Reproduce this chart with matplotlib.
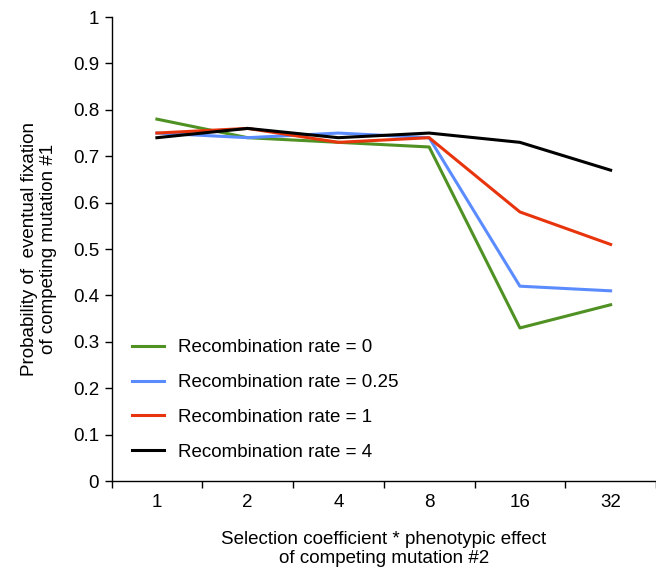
import matplotlib.pyplot as plt
import numpy as np

plt.rcParams['font.family'] = ['Liberation Sans', 'DejaVu Sans']

categories = ["1", "2", "4", "8", "16", "32"]
rate_0 = [0.78, 0.74, 0.73, 0.72, 0.33, 0.38]
rate_025 = [0.75, 0.74, 0.75, 0.74, 0.42, 0.41]
rate_1 = [0.75, 0.76, 0.73, 0.74, 0.58, 0.51]
rate_4 = [0.74, 0.76, 0.74, 0.75, 0.73, 0.67]
labels = ["Recombination rate = 0", "Recombination rate = 0.25",
          "Recombination rate = 1", "Recombination rate = 4"]
colors = ["#4f9123", "#5b8cff", "#e8340c", "#000000"]

fs = 13.5

fig = plt.figure(figsize=(6.56, 5.68), dpi=100)
ax = fig.add_axes([0.170, 0.153, 0.830, 0.817])

x = np.arange(len(categories))
for series, lab, col in zip([rate_0, rate_025, rate_1, rate_4], labels, colors):
    ax.plot(x, series, color=col, lw=2.2, label=lab)

ax.set_xlim(-0.5, len(categories) - 0.5)
ax.set_ylim(0, 1)
ax.set_yticks(np.arange(0, 1.01, 0.1))
ax.set_yticklabels(["0", "0.1", "0.2", "0.3", "0.4", "0.5", "0.6", "0.7", "0.8", "0.9", "1"])

# category axis: ticks at boundaries, labels at centres
ax.set_xticks(np.arange(-0.5, len(categories) + 0.5, 1.0))
ax.set_xticklabels([])
ax.set_xticks(x, minor=True)
ax.set_xticklabels(categories, minor=True)
ax.tick_params(axis='x', which='minor', length=0, pad=9, labelsize=fs)
ax.tick_params(axis='x', which='major', length=5, width=1)
ax.tick_params(axis='y', length=5, width=1, labelsize=fs, pad=4)

for side in ['top', 'right']:
    ax.spines[side].set_visible(False)
ax.spines['left'].set_linewidth(1)
ax.spines['bottom'].set_linewidth(1)

ax.set_xlabel("Selection coefficient * phenotypic effect\nof competing mutation #2",
              fontsize=fs, labelpad=15, linespacing=1.1)
ax.set_ylabel("Probability of  eventual fixation\nof competing mutation #1",
              fontsize=fs, labelpad=11, linespacing=1.2)

ax.legend(loc='lower left', bbox_to_anchor=(0.007, 0.007), frameon=False,
          fontsize=fs, handlelength=1.7, labelspacing=0.95, handletextpad=0.75)

fig.savefig("out.png", dpi=100)
